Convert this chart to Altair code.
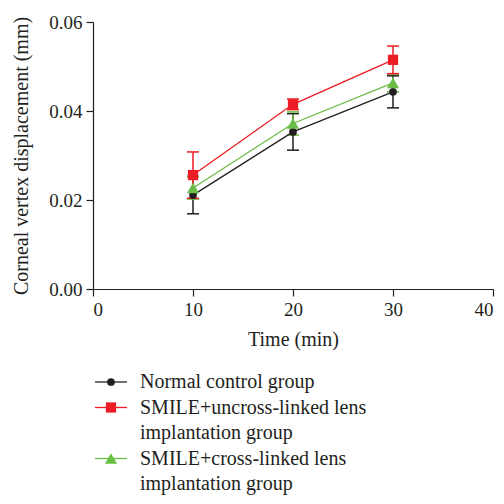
import altair as alt
import pandas as pd

times = [10, 20, 30]
series = ["Normal control group",
          "SMILE+uncross-linked lens implantation group",
          "SMILE+cross-linked lens implantation group"]
normal = [0.0211, 0.0353, 0.0443]
normal_sd = [0.0042, 0.0041, 0.0036]
uncross = [0.0256, 0.0415, 0.0515]
uncross_sd = [0.0052, 0.0012, 0.0031]
cross = [0.0227, 0.0372, 0.0463]
cross_sd = [0.0025, 0.0026, 0.0020]

colors = ["#231f20", "#ed1c24", "#6abd45"]
shapes = ["circle", "square", "triangle-up"]
sizes = [60, 150, 150]

legend_text = ["Normal control group", "SMILE+uncross-linked lens",
               "implantation group", "SMILE+cross-linked lens",
               "implantation group"]
legend_symbol_rows = [0, 1, 3]

FONT = "Liberation Serif"

rows = []
for s, vals, sds, order in [(series[0], normal, normal_sd, 0),
                            (series[2], cross, cross_sd, 1),
                            (series[1], uncross, uncross_sd, 2)]:
    for t, v, sd in zip(times, vals, sds):
        rows.append({"series": s, "time": t, "value": v,
                     "lo": v - sd, "hi": v + sd, "order": order})
df = pd.DataFrame(rows)

color_scale = alt.Scale(domain=series, range=colors)
shape_scale = alt.Scale(domain=series, range=shapes)
size_scale = alt.Scale(domain=series, range=sizes)

x_enc = alt.X("time:Q", scale=alt.Scale(domain=[0, 40]),
              axis=alt.Axis(values=[0, 10, 20, 30, 40], title="Time (min)"))
y_enc = alt.Y("value:Q", scale=alt.Scale(domain=[0, 0.06]),
              axis=alt.Axis(values=[0, 0.02, 0.04, 0.06], format=".2f",
                            title="Corneal vertex displacement (mm)"))

base = alt.Chart(df)

err_v = base.mark_rule(strokeWidth=1.5).encode(
    x=x_enc, y=alt.Y("lo:Q"), y2="hi:Q",
    color=alt.Color("series:N", scale=color_scale, legend=None))
cap_hi = base.mark_rule(strokeWidth=1.5, xOffset=-6, x2Offset=6).encode(
    x="time:Q", x2="time:Q", y="hi:Q",
    color=alt.Color("series:N", scale=color_scale, legend=None))
cap_lo = base.mark_rule(strokeWidth=1.5, xOffset=-6, x2Offset=6).encode(
    x="time:Q", x2="time:Q", y="lo:Q",
    color=alt.Color("series:N", scale=color_scale, legend=None))

lines = base.mark_line(strokeWidth=1.3).encode(
    x=x_enc, y=y_enc,
    color=alt.Color("series:N", scale=color_scale, legend=None),
    detail="series:N")
points = base.mark_point(filled=True, opacity=1).encode(
    x="time:Q", y="value:Q",
    color=alt.Color("series:N", scale=color_scale, legend=None),
    shape=alt.Shape("series:N", scale=shape_scale, legend=None),
    size=alt.Size("series:N", scale=size_scale, legend=None),
    order="order:Q")

main = alt.layer(err_v, cap_hi, cap_lo, lines, points)

# legend drawn below the plot
leg_sym = pd.DataFrame({"row": legend_symbol_rows, "series": series})
leg_txt = pd.DataFrame({"row": list(range(len(legend_text))), "text": legend_text})
leg_y = alt.Y("row:Q", scale=alt.Scale(domain=[0, 4], range=[360, 462]), axis=None)

leg_line = alt.Chart(leg_sym).mark_rule(strokeWidth=1.3).encode(
    x=alt.value(2), x2=alt.value(34), y=leg_y,
    color=alt.Color("series:N", scale=color_scale, legend=None))
leg_pt = alt.Chart(leg_sym).mark_point(filled=True, opacity=1).encode(
    x=alt.value(18), y=leg_y,
    color=alt.Color("series:N", scale=color_scale, legend=None),
    shape=alt.Shape("series:N", scale=shape_scale, legend=None),
    size=alt.Size("series:N", scale=size_scale, legend=None))
leg_text = alt.Chart(leg_txt).mark_text(
    align="left", baseline="middle", font=FONT, fontSize=20, color="#231f20").encode(
    x=alt.value(47), y=leg_y, text="text:N")

legend = alt.layer(leg_line, leg_pt, leg_text)

chart = alt.layer(main, legend).resolve_scale(y="independent").properties(
    width=400, height=267,
    autosize=alt.AutoSizeParams(type="none"),
    padding={"left": 85, "top": 14, "right": 3, "bottom": 207},
).configure_view(stroke=None).configure_axis(
    grid=False, domainColor="#231f20", domainWidth=1.2,
    tickColor="#231f20", tickWidth=1.2, tickSize=7,
    labelFont=FONT, labelFontSize=19, labelColor="#231f20",
    titleFont=FONT, titleFontSize=20, titleColor="#231f20", titleFontWeight="normal",
).configure_axisY(labelPadding=4, titlePadding=17).configure_axisX(
    labelPadding=4, titlePadding=10)

chart.save("out.html", embed_options={"renderer": "svg", "actions": False})
